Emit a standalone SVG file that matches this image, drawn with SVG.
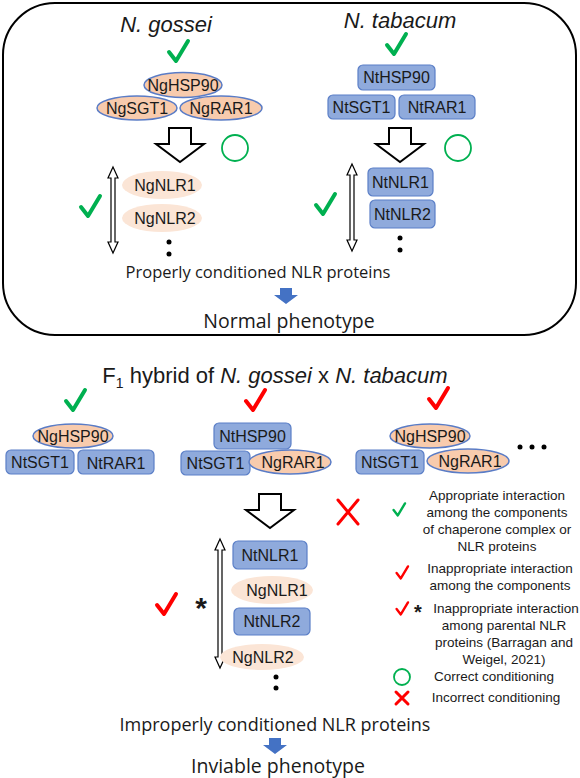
<svg xmlns="http://www.w3.org/2000/svg" width="580" height="778" viewBox="0 0 580 778">
<style>
text{font-family:"Liberation Sans",Arial,sans-serif;fill:#1a1a1a}
.lbl{font-size:16px;text-anchor:middle}
.ttl{font-size:22px;font-style:italic;text-anchor:middle}
.big{font-family:"Open Sans","Liberation Sans",sans-serif;font-size:16.5px;text-anchor:middle}
.big2{font-family:"Open Sans","Liberation Sans",sans-serif;font-size:19.5px;text-anchor:middle}
.big3{font-family:"Open Sans","Liberation Sans",sans-serif;font-size:18px;text-anchor:middle}
.leg{font-size:13.5px;text-anchor:middle}
.ng{fill:#f8cbad;stroke:#5a7cc6;stroke-width:1.5}
.ngp{fill:#fbe5d6;stroke:none}
.nt{fill:#8faadc;stroke:#5b7fc7;stroke-width:1.2}
.gck{fill:none;stroke:#00b050;stroke-width:4;stroke-linecap:round;stroke-linejoin:round}
.rck{fill:none;stroke:#ff0000;stroke-width:4;stroke-linecap:round;stroke-linejoin:round}
.barrow{fill:#fff;stroke:#000;stroke-width:2}
.darrow{fill:#fff;stroke:#000;stroke-width:1.2}
.blue{fill:#4472c4}
.gc{fill:none;stroke:#00b050;stroke-width:1.8}
.rx{stroke:#ff0000;stroke-width:3;stroke-linecap:round}
</style>
<defs>
<path id="chk" d="M-9,0 L-2,9 L10,-11"/>
<path id="bigarrow" d="M-11,0 H11 V16 H24 L0,34 L-24,16 H-11 Z"/>
<path id="bluearrow" d="M-6,0 H6 V7 H12 L0,16 L-12,7 H-6 Z"/>
</defs>
<rect x="3" y="3" width="573" height="332" rx="52" ry="52" fill="none" stroke="#000" stroke-width="2"/>

<g id="gossei-panel">
<text class="ttl" x="166" y="32">N. gossei</text>
<use href="#chk" class="gck" x="178" y="52"/>
<g id="ng-hsp90"><ellipse class="ng" cx="183" cy="85" rx="39" ry="12.5"/><text class="lbl" x="183" y="91">NgHSP90</text></g>
<g id="ng-sgt1"><ellipse class="ng" cx="137" cy="108" rx="40" ry="12"/><text class="lbl" x="137" y="114">NgSGT1</text></g>
<g id="ng-rar1"><ellipse class="ng" cx="221" cy="108" rx="41" ry="12"/><text class="lbl" x="221" y="114">NgRAR1</text></g>
<use href="#bigarrow" class="barrow" x="180" y="128"/>
<circle class="gc" cx="235" cy="148" r="13"/>
<path class="darrow" d="M113,167 L118,178 L115,178 L115,242 L118,242 L113,253 L108,242 L111,242 L111,178 L108,178 Z"/>
<use href="#chk" class="gck" x="90" y="207"/>
<g id="ng-nlr1"><ellipse class="ngp" cx="162" cy="185" rx="40" ry="14"/><text class="lbl" x="165" y="191">NgNLR1</text></g>
<g id="ng-nlr2"><ellipse class="ngp" cx="162" cy="218" rx="40" ry="14"/><text class="lbl" x="165" y="224">NgNLR2</text></g>
<circle cx="169" cy="242" r="2.5" fill="#000"/><circle cx="169" cy="254" r="2.5" fill="#000"/>
</g>

<g id="tabacum-panel">
<text class="ttl" x="400" y="28">N. tabacum</text>
<use href="#chk" class="gck" x="396" y="45"/>
<g id="nt-hsp90"><rect class="nt" x="358" y="65" width="77" height="25" rx="5"/><text class="lbl" x="396.5" y="83">NtHSP90</text></g>
<g id="nt-sgt1"><rect class="nt" x="328" y="95" width="67" height="24" rx="5"/><text class="lbl" x="361.5" y="113">NtSGT1</text></g>
<g id="nt-rar1"><rect class="nt" x="399" y="95" width="76" height="24" rx="5"/><text class="lbl" x="437" y="113">NtRAR1</text></g>
<use href="#bigarrow" class="barrow" x="400" y="128"/>
<circle class="gc" cx="458" cy="148" r="13"/>
<path class="darrow" d="M352,164 L357,175 L354,175 L354,240 L357,240 L352,251 L347,240 L350,240 L350,175 L347,175 Z"/>
<use href="#chk" class="gck" x="325" y="205"/>
<g id="nt-nlr1"><rect class="nt" x="368" y="168" width="65" height="28" rx="5"/><text class="lbl" x="400.5" y="188">NtNLR1</text></g>
<g id="nt-nlr2"><rect class="nt" x="370" y="200" width="65" height="28" rx="5"/><text class="lbl" x="402.5" y="220">NtNLR2</text></g>
<circle cx="400" cy="238" r="2.5" fill="#000"/><circle cx="400" cy="250" r="2.5" fill="#000"/>
</g>

<g id="top-outcome">
<text class="big" x="258" y="278">Properly conditioned NLR proteins</text>
<use href="#bluearrow" class="blue" x="286" y="288"/>
<text class="big2" x="289" y="328">Normal phenotype</text>
</g>

<g id="hybrid">
<text x="275" y="383" font-size="22" text-anchor="middle">F<tspan font-size="14" dy="5">1</tspan><tspan dy="-5"> hybrid of </tspan><tspan font-style="italic">N. gossei</tspan> x <tspan font-style="italic">N. tabacum</tspan></text>
</g>

<g id="hybrid-left">
<use href="#chk" class="gck" x="75" y="401"/>
<g id="h1-hsp90"><ellipse class="ng" cx="73" cy="436" rx="40" ry="12"/><text class="lbl" x="73" y="442">NgHSP90</text></g>
<g id="h1-sgt1"><rect class="nt" x="6" y="450" width="68" height="24" rx="5"/><text class="lbl" x="40" y="468">NtSGT1</text></g>
<g id="h1-rar1"><rect class="nt" x="78" y="450" width="76" height="24" rx="5"/><text class="lbl" x="116" y="469">NtRAR1</text></g>
</g>

<g id="hybrid-mid">
<use href="#chk" class="rck" x="255" y="401"/>
<g id="h2-hsp90"><rect class="nt" x="214" y="423" width="77" height="26" rx="5"/><text class="lbl" x="252.5" y="442">NtHSP90</text></g>
<g id="h2-sgt1"><rect class="nt" x="181" y="451" width="69" height="24" rx="5"/><text class="lbl" x="215.5" y="469">NtSGT1</text></g>
<g id="h2-rar1"><ellipse class="ng" cx="290" cy="462" rx="41" ry="12"/><text class="lbl" x="293" y="468">NgRAR1</text></g>
</g>

<g id="hybrid-right">
<use href="#chk" class="rck" x="438" y="399"/>
<g id="h3-hsp90"><ellipse class="ng" cx="430" cy="436" rx="40" ry="12"/><text class="lbl" x="430" y="442">NgHSP90</text></g>
<g id="h3-sgt1"><rect class="nt" x="356" y="450" width="68" height="24" rx="5"/><text class="lbl" x="390" y="468">NtSGT1</text></g>
<g id="h3-rar1"><ellipse class="ng" cx="468" cy="461" rx="41" ry="12"/><text class="lbl" x="470" y="467">NgRAR1</text></g>
<circle cx="520" cy="447" r="2.5" fill="#000"/><circle cx="532" cy="447" r="2.5" fill="#000"/><circle cx="544" cy="447" r="2.5" fill="#000"/>
</g>

<g id="hybrid-nlr">
<use href="#bigarrow" class="barrow" x="270" y="494"/>
<path class="rx" d="M338,500 L358,524 M358,500 L338,524"/>
<path class="darrow" d="M220,539 L225,550 L222,550 L222,657 L225,657 L220,668 L215,657 L218,657 L218,550 L215,550 Z"/>
<use href="#chk" class="rck" x="166" y="605"/>
<text x="201" y="618" font-size="30" font-weight="bold" text-anchor="middle" fill="#000">*</text>
<g id="h-ntnlr1"><rect class="nt" x="233" y="541" width="74" height="28" rx="5"/><text class="lbl" x="270" y="561">NtNLR1</text></g>
<g id="h-ngnlr1"><ellipse class="ngp" cx="272" cy="590" rx="41" ry="14"/><text class="lbl" x="277" y="596">NgNLR1</text></g>
<g id="h-ntnlr2"><rect class="nt" x="234" y="608" width="76" height="27" rx="5"/><text class="lbl" x="272" y="627">NtNLR2</text></g>
<g id="h-ngnlr2"><ellipse class="ngp" cx="262" cy="657" rx="42" ry="13"/><text class="lbl" x="263" y="663">NgNLR2</text></g>
<circle cx="276" cy="677" r="2.5" fill="#000"/><circle cx="276" cy="688" r="2.5" fill="#000"/>
</g>

<g id="bottom-outcome">
<text class="big3" x="275" y="731">Improperly conditioned NLR proteins</text>
<use href="#bluearrow" class="blue" x="275" y="738"/>
<text class="big2" x="278" y="773">Inviable phenotype</text>
</g>

<g id="legend">
<use href="#chk" class="gck" x="399" y="510" transform="translate(399 510) scale(0.6) translate(-399 -510)"/>
<text class="leg" x="497" y="500">Appropriate interaction</text>
<text class="leg" x="497" y="517">among the components</text>
<text class="leg" x="497" y="534">of chaperone complex or</text>
<text class="leg" x="497" y="551">NLR proteins</text>
<use href="#chk" class="rck" x="402" y="573" transform="translate(402 573) scale(0.6) translate(-402 -573)"/>
<text class="leg" x="500" y="573">Inappropriate interaction</text>
<text class="leg" x="500" y="590">among the components</text>
<use href="#chk" class="rck" x="402" y="609" transform="translate(402 609) scale(0.6) translate(-402 -609)"/>
<text x="418" y="619" font-size="20" font-weight="bold" text-anchor="middle" fill="#000">*</text>
<text class="leg" x="506" y="613">Inappropriate interaction</text>
<text class="leg" x="504" y="630">among parental NLR</text>
<text class="leg" x="504" y="647">proteins (Barragan and</text>
<text class="leg" x="504" y="664">Weigel, 2021)</text>
<circle class="gc" cx="402" cy="677" r="8" stroke-width="1.5"/>
<text class="leg" x="494" y="681">Correct conditioning</text>
<path class="rx" d="M396,692 L408,704 M408,692 L396,704" stroke-width="2"/>
<text class="leg" x="496" y="702">Incorrect conditioning</text>
</g>
</svg>
